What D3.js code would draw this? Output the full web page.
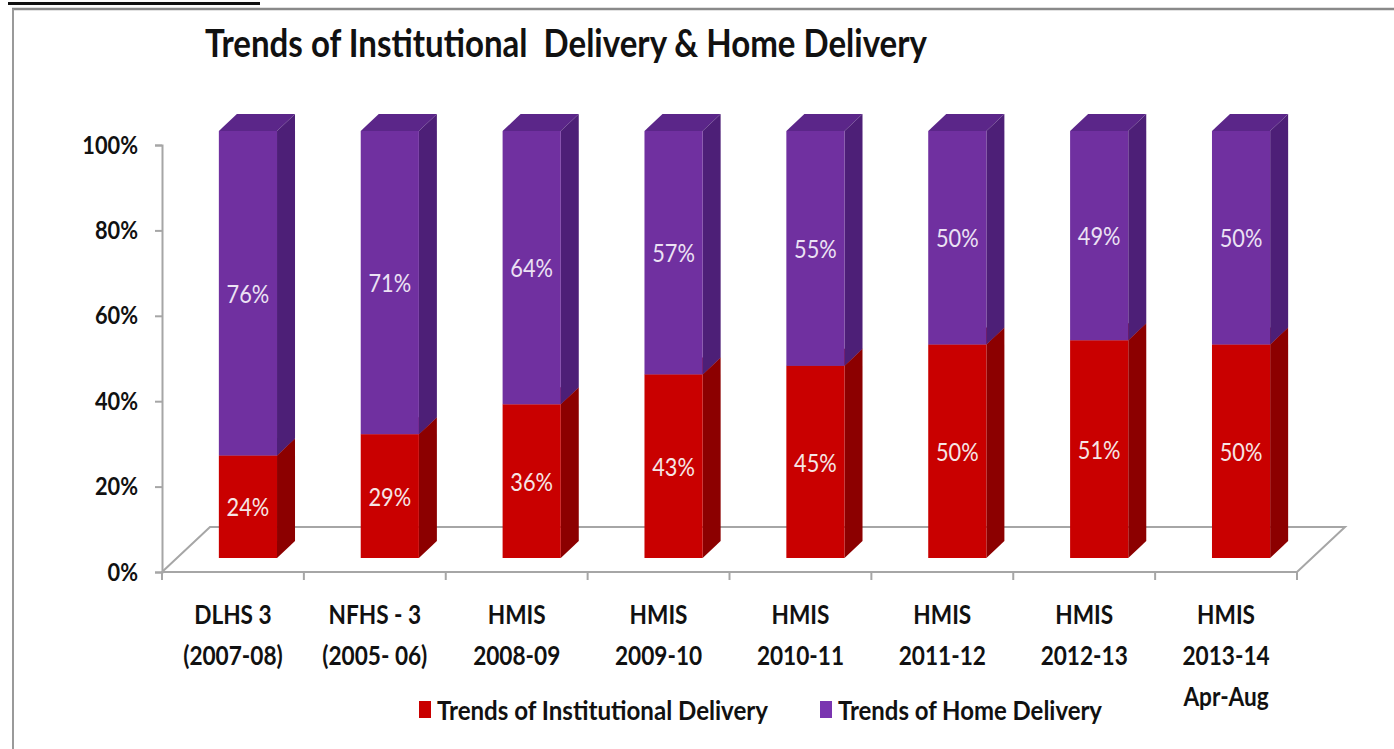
<!DOCTYPE html>
<html>
<head>
<meta charset="utf-8">
<script src="https://cdn.jsdelivr.net/npm/d3@7"></script>
<style>
  html, body { margin: 0; padding: 0; background: #ffffff; }
  svg { display: block; }
  text { font-family: Lato, "Open Sans", sans-serif; }
</style>
</head>
<body>
<svg id="chart" width="1394" height="749"></svg>
<script>
// ---- data ----
const categories = ["DLHS 3 (2007-08)", "NFHS - 3 (2005- 06)", "HMIS 2008-09", "HMIS 2009-10",
                    "HMIS 2010-11", "HMIS 2011-12", "HMIS 2012-13", "HMIS 2013-14 Apr-Aug"];
const categoryLines = [["DLHS 3", "(2007-08)"], ["NFHS - 3", "(2005- 06)"], ["HMIS", "2008-09"], ["HMIS", "2009-10"],
                       ["HMIS", "2010-11"], ["HMIS", "2011-12"], ["HMIS", "2012-13"], ["HMIS", "2013-14", "Apr-Aug"]];
const institutional = [24, 29, 36, 43, 45, 50, 51, 50];
const home = [76, 71, 64, 57, 55, 50, 49, 50];
const seriesNames = ["Trends of Institutional Delivery", "Trends of Home Delivery"];
const yTicks = [0, 20, 40, 60, 80, 100];
const titleText = "Trends of Institutional  Delivery & Home Delivery";

// ---- styles ----
const colors = {
  front: ["#c90000", "#7030a0"],
  side:  ["#8c0000", "#4d1f77"],
  top:   ["#a00000", "#5b2689"],
  label: ["#f6e6e6", "#ece2f4"]
};
const narrow = 0.87;

const svg = d3.select("#chart");

// frame lines
svg.append("line").attr("x1", 8).attr("x2", 260).attr("y1", 3.5).attr("y2", 3.5)
   .attr("stroke", "#111").attr("stroke-width", 3);
svg.append("line").attr("x1", 12).attr("x2", 1394).attr("y1", 9).attr("y2", 9)
   .attr("stroke", "#8a8a8a").attr("stroke-width", 2.5);
svg.append("line").attr("x1", 13).attr("x2", 13).attr("y1", 9).attr("y2", 749)
   .attr("stroke", "#9a9a9a").attr("stroke-width", 2);

// title
svg.append("text").attr("x", 205).attr("y", 57)
   .style("white-space", "pre")
   .attr("font-size", 39).attr("font-weight", 700).attr("fill", "#111")
   .attr("textLength", 722).attr("lengthAdjust", "spacingAndGlyphs")
   .text(titleText);

// scales
const x0 = 162, x1 = 1297, yBase = 572, yTop = 145;
const x = d3.scaleBand().domain(categories).range([x0, x1]).padding(0);
const y = d3.scaleLinear().domain([0, 100]).range([yBase, yTop]);

const floorD = { dx: 48, dy: -45 };
const barD = { dx: 18, dy: -17 };
const barOff = { dx: 15, dy: -14 };
const barW = x.bandwidth() * 0.41;

// floor
const floor = [[x0, yBase], [x1, yBase], [x1 + floorD.dx, yBase + floorD.dy], [x0 + floorD.dx, yBase + floorD.dy]];
svg.append("polygon").attr("points", floor.map(p => p.join(",")).join(" "))
   .attr("fill", "none").attr("stroke", "#a6a6a6").attr("stroke-width", 2);

// y axis
const yAxis = d3.axisLeft(y).tickValues(yTicks).tickFormat(d => d + "%").tickSize(7).tickPadding(0);
const gy = svg.append("g").attr("transform", `translate(${x0},0)`).call(yAxis);
gy.select(".domain").attr("stroke", "#a6a6a6").attr("stroke-width", 2);
gy.selectAll(".tick line").attr("stroke", "#a6a6a6").attr("stroke-width", 2);
gy.selectAll(".tick text")
  .attr("x", null)
  .attr("transform", `translate(-24,0) scale(${narrow},1)`)
  .attr("font-family", "Lato, sans-serif").attr("font-size", 25)
  .attr("font-weight", 700).attr("fill", "#111");

// x axis ticks at band boundaries
const boundaries = categories.map(c => x(c)).concat([x1]);
svg.append("g").selectAll("line").data(boundaries).join("line")
   .attr("x1", d => d).attr("x2", d => d).attr("y1", yBase).attr("y2", yBase + 8)
   .attr("stroke", "#a6a6a6").attr("stroke-width", 2);

// x labels
const xl = svg.append("g");
categories.forEach((c, i) => {
  const cx = x(c) + x.bandwidth() / 2;
  categoryLines[i].forEach((line, j) => {
    xl.append("text")
      .attr("transform", `translate(${cx},${614 + j * 41}) scale(${narrow},1)`)
      .attr("text-anchor", "middle").attr("dominant-baseline", "central")
      .style("white-space", "pre")
      .attr("font-size", 26).attr("font-weight", 700).attr("fill", "#111")
      .text(line);
  });
});

// stacked 3D bars
const stacks = categories.map((c, i) => {
  const vals = [institutional[i], home[i]];
  let acc = 0;
  return vals.map((v, k) => { const s = { cat: c, k, v, y0: acc, y1: acc + v }; acc += v; return s; });
});

const gb = svg.append("g");
stacks.forEach(stack => {
  stack.forEach(s => {
    const xl0 = x(s.cat) + (x.bandwidth() - barW) / 2 + barOff.dx;
    const xr = xl0 + barW;
    const yt = y(s.y1) + barOff.dy;
    const yb = y(s.y0) + barOff.dy;
    const g = gb.append("g");
    g.append("polygon").attr("points", [[xl0, yt], [xl0 + barD.dx, yt + barD.dy], [xr + barD.dx, yt + barD.dy], [xr, yt]].map(p => p.join(",")).join(" "))
     .attr("fill", colors.top[s.k]);
    g.append("polygon").attr("points", [[xr, yt], [xr + barD.dx, yt + barD.dy], [xr + barD.dx, yb + barD.dy], [xr, yb]].map(p => p.join(",")).join(" "))
     .attr("fill", colors.side[s.k]);
    g.append("rect").attr("x", xl0).attr("y", yt).attr("width", barW).attr("height", yb - yt)
     .attr("fill", colors.front[s.k]);
  });
});

// data labels
stacks.forEach(stack => {
  stack.forEach(s => {
    const cx = x(s.cat) + x.bandwidth() / 2 + barOff.dx;
    const cy = (y(s.y0) + y(s.y1)) / 2 + barOff.dy;
    gb.append("text")
      .attr("transform", `translate(${cx},${cy}) scale(${narrow},1)`)
      .attr("text-anchor", "middle").attr("dominant-baseline", "central")
      .attr("font-size", 25).attr("fill", colors.label[s.k])
      .text(s.v + "%");
  });
});

// legend
const legendItems = [
  { name: seriesNames[0], color: colors.front[0], sx: 419, tx: 437, w: 331 },
  { name: seriesNames[1], color: "#7a35b0", sx: 820, tx: 838, w: 264 }
];
const lg = svg.append("g");
legendItems.forEach(it => {
  lg.append("rect").attr("x", it.sx).attr("y", 701).attr("width", 12).attr("height", 17).attr("fill", it.color);
  lg.append("text").attr("x", it.tx).attr("y", 710).attr("dominant-baseline", "central")
    .attr("font-size", 26).attr("font-weight", 700).attr("fill", "#111")
    .attr("textLength", it.w).attr("lengthAdjust", "spacingAndGlyphs")
    .text(it.name);
});
</script>
</body>
</html>
